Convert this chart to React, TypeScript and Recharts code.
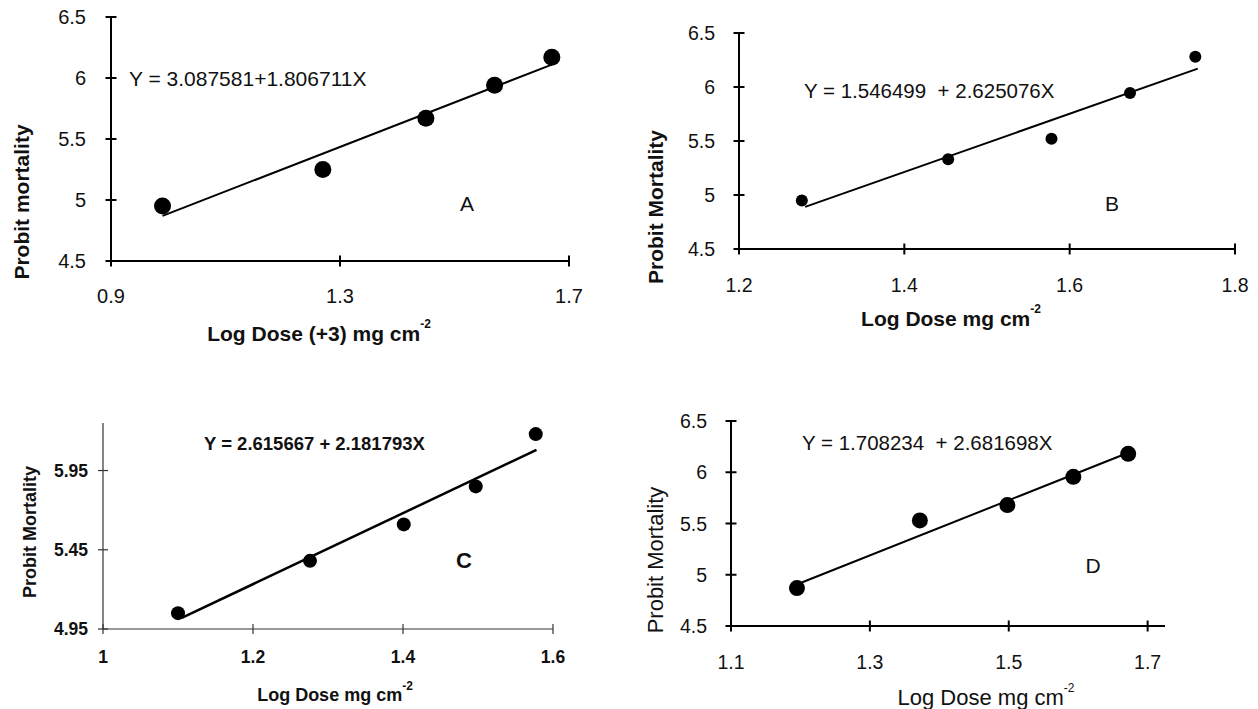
import React from "react";
import { ScatterChart, Scatter, XAxis, YAxis } from "recharts";

const FONT = '"Liberation Sans", Arial, Helvetica, sans-serif';

// Panel A
const aDose = [0.99, 1.27, 1.45, 1.57, 1.67];
const aProbit = [4.95, 5.25, 5.67, 5.94, 6.17];
const aFitDose = [0.99, 1.67];
const aFitProbit = [4.87, 6.11];
const aXTicks = [0.9, 1.3, 1.7];
const aYTicks = [4.5, 5, 5.5, 6, 6.5];

// Panel B
const bDose = [1.276, 1.453, 1.578, 1.673, 1.752];
const bProbit = [4.95, 5.33, 5.52, 5.945, 6.28];
const bFitDose = [1.28, 1.755];
const bFitProbit = [4.89, 6.17];
const bXTicks = [1.2, 1.4, 1.6, 1.8];
const bYTicks = [4.5, 5, 5.5, 6, 6.5];

// Panel C
const cDose = [1.1, 1.276, 1.401, 1.497, 1.577];
const cProbit = [5.05, 5.38, 5.61, 5.85, 6.18];
const cFitDose = [1.105, 1.578];
const cFitProbit = [5.02, 6.08];
const cXTicks = [1, 1.2, 1.4, 1.6];
const cYTicks = [4.95, 5.45, 5.95];

// Panel D
const dDose = [1.195, 1.372, 1.498, 1.593, 1.672];
const dProbit = [4.87, 5.53, 5.68, 5.955, 6.18];
const dFitDose = [1.2, 1.672];
const dFitProbit = [4.92, 6.19];
const dXTicks = [1.1, 1.3, 1.5, 1.7];
const dYTicks = [4.5, 5, 5.5, 6, 6.5];

const toPts = (xs: number[], ys: number[]) => xs.map((x, i) => ({ x, y: ys[i] }));

type Look = {
  dotR: number;
  lineW: number;
  axisW: number;
  axisColor: string;
  tickFont: number;
  tickWeight: string;
  xGap: number;
  yGap: number;
  tickHalf: number;
};

type PanelProps = {
  box: { x: number; y: number; w: number; h: number };
  plot: { l: number; t: number; r: number; b: number };
  xDomain: [number, number];
  yDomain: [number, number];
  xTicks: number[];
  yTicks: number[];
  points: { x: number; y: number }[];
  fit: { x: number; y: number }[];
  look: Look;
};

// ticks cross the axis line, like the Excel originals
function XTick(props: any) {
  const { x, payload, look, axisY } = props;
  return (
    <g>
      <line x1={x} x2={x} y1={axisY - look.tickHalf} y2={axisY + look.tickHalf} stroke={look.axisColor} strokeWidth={look.axisW} />
      <text x={x} y={axisY + look.xGap} textAnchor="middle" dominantBaseline="central" fontFamily={FONT}
        fontSize={look.tickFont} fontWeight={look.tickWeight} fill="#111">
        {String(payload.value)}
      </text>
    </g>
  );
}

function YTick(props: any) {
  const { y, payload, look, axisX } = props;
  return (
    <g>
      <line x1={axisX - look.tickHalf} x2={axisX + look.tickHalf} y1={y} y2={y} stroke={look.axisColor} strokeWidth={look.axisW} />
      <text x={axisX - look.yGap} y={y} textAnchor="end" dominantBaseline="central" fontFamily={FONT}
        fontSize={look.tickFont} fontWeight={look.tickWeight} fill="#111">
        {String(payload.value)}
      </text>
    </g>
  );
}

function Panel({ box, plot, xDomain, yDomain, xTicks, yTicks, points, fit, look }: PanelProps) {
  const xAxisH = 40;
  const margin = {
    top: plot.t - box.y,
    left: 0,
    right: box.x + box.w - plot.r,
    bottom: box.y + box.h - plot.b - xAxisH,
  };
  const axisY = plot.b - box.y;
  const axisX = plot.l - box.x;
  return (
    <div style={{ position: "absolute", left: box.x, top: box.y, width: box.w, height: box.h }}>
      <ScatterChart width={box.w} height={box.h} margin={margin} style={{ overflow: "visible" }}>
        <XAxis
          type="number"
          dataKey="x"
          domain={xDomain}
          ticks={xTicks}
          interval={0}
          height={xAxisH}
          tickLine={false}
          tickSize={0}
          tickMargin={0}
          axisLine={{ stroke: look.axisColor, strokeWidth: look.axisW }}
          tick={(p: any) => <XTick {...p} look={look} axisY={axisY} />}
        />
        <YAxis
          type="number"
          dataKey="y"
          domain={yDomain}
          ticks={yTicks}
          interval={0}
          width={axisX}
          tickLine={false}
          tickSize={0}
          tickMargin={0}
          axisLine={{ stroke: look.axisColor, strokeWidth: look.axisW }}
          tick={(p: any) => <YTick {...p} look={look} axisX={axisX} />}
        />
        <Scatter
          data={fit}
          line={{ stroke: "#000", strokeWidth: look.lineW }}
          shape={() => <g />}
          isAnimationActive={false}
        />
        <Scatter
          data={points}
          shape={(p: any) => <circle cx={p.cx} cy={p.cy} r={look.dotR} fill="#000" />}
          isAnimationActive={false}
        />
      </ScatterChart>
    </div>
  );
}

const plainLook: Look = {
  dotR: 8.5, lineW: 2, axisW: 2, axisColor: "#000", tickFont: 20, tickWeight: "normal",
  xGap: 35, yGap: 25, tickHalf: 5.5,
};

const sup = (t: string) => (
  <tspan dy={-9} fontSize={12}>{t}</tspan>
);

export default function App() {
  return (
    <div style={{ position: "absolute", left: 0, top: 0, width: 1258, height: 709, background: "#fff" }}>
      <Panel
        box={{ x: 0, y: 0, w: 620, h: 360 }}
        plot={{ l: 111, t: 17, r: 569, b: 261 }}
        xDomain={[0.9, 1.7]}
        yDomain={[4.5, 6.5]}
        xTicks={aXTicks}
        yTicks={aYTicks}
        points={toPts(aDose, aProbit)}
        fit={toPts(aFitDose, aFitProbit)}
        look={plainLook}
      />
      <Panel
        box={{ x: 620, y: 0, w: 638, h: 360 }}
        plot={{ l: 739, t: 33, r: 1235, b: 249 }}
        xDomain={[1.2, 1.8]}
        yDomain={[4.5, 6.5]}
        xTicks={bXTicks}
        yTicks={bYTicks}
        points={toPts(bDose, bProbit)}
        fit={toPts(bFitDose, bFitProbit)}
        look={{ ...plainLook, dotR: 6, tickFont: 19.5, xGap: 36, yGap: 24 }}
      />
      <Panel
        box={{ x: 0, y: 370, w: 620, h: 339 }}
        plot={{ l: 103, t: 423, r: 553, b: 629 }}
        xDomain={[1, 1.6]}
        yDomain={[4.95, 6.25]}
        xTicks={cXTicks}
        yTicks={cYTicks}
        points={toPts(cDose, cProbit)}
        fit={toPts(cFitDose, cFitProbit)}
        look={{
          dotR: 7, lineW: 2.5, axisW: 1.2, axisColor: "#333", tickFont: 17.5, tickWeight: "bold",
          xGap: 28, yGap: 15, tickHalf: 5,
        }}
      />
      <Panel
        box={{ x: 620, y: 370, w: 638, h: 339 }}
        plot={{ l: 731, t: 421, r: 1165, b: 626 }}
        xDomain={[1.1, 1.725]}
        yDomain={[4.5, 6.5]}
        xTicks={dXTicks}
        yTicks={dYTicks}
        points={toPts(dDose, dProbit)}
        fit={toPts(dFitDose, dFitProbit)}
        look={{ ...plainLook, dotR: 8, tickFont: 19.5, xGap: 36, yGap: 24 }}
      />
      <svg width={1258} height={709} style={{ position: "absolute", left: 0, top: 0, pointerEvents: "none" }}
        fontFamily={FONT} fill="#111">
        {/* A */}
        <text x={129} y={78} fontSize={21} dominantBaseline="central">Y = 3.087581+1.806711X</text>
        <text x={467} y={203} fontSize={21} textAnchor="middle" dominantBaseline="central">A</text>
        <text transform="translate(21,202) rotate(-90)" fontSize={21} fontWeight="bold" textAnchor="middle" dominantBaseline="central">Probit mortality</text>
        <text x={319} y={333} fontSize={21} fontWeight="bold" textAnchor="middle" dominantBaseline="central">
          Log Dose (+3) mg cm{sup("-2")}
        </text>
        {/* B */}
        <text x={804} y={90} fontSize={20.5} dominantBaseline="central">Y = 1.546499{"\u00A0"} + 2.625076X</text>
        <text x={1112} y={203} fontSize={21} textAnchor="middle" dominantBaseline="central">B</text>
        <text transform="translate(655,207) rotate(-90)" fontSize={21} fontWeight="bold" textAnchor="middle" dominantBaseline="central">Probit Mortality</text>
        <text x={951} y={318} fontSize={21} fontWeight="bold" textAnchor="middle" dominantBaseline="central">
          Log Dose mg cm{sup("-2")}
        </text>
        {/* C */}
        <text x={204} y={443} fontSize={18.5} fontWeight="bold" dominantBaseline="central">Y = 2.615667 + 2.181793X</text>
        <text x={464} y={560} fontSize={22} fontWeight="bold" textAnchor="middle" dominantBaseline="central">C</text>
        <text transform="translate(30,532) rotate(-90)" fontSize={18} fontWeight="bold" textAnchor="middle" dominantBaseline="central">Probit Mortality</text>
        <text x={335} y={695} fontSize={18} fontWeight="bold" textAnchor="middle" dominantBaseline="central">
          Log Dose mg cm{sup("-2")}
        </text>
        {/* D */}
        <text x={802} y={442} fontSize={20.5} dominantBaseline="central">Y = 1.708234{"\u00A0"} + 2.681698X</text>
        <text x={1093} y={565} fontSize={21} textAnchor="middle" dominantBaseline="central">D</text>
        <text transform="translate(655,560) rotate(-90)" fontSize={22} textAnchor="middle" dominantBaseline="central">Probit Mortality</text>
        <text x={986} y={697} fontSize={22} textAnchor="middle" dominantBaseline="central">
          Log Dose mg cm{sup("-2")}
        </text>
      </svg>
    </div>
  );
}
